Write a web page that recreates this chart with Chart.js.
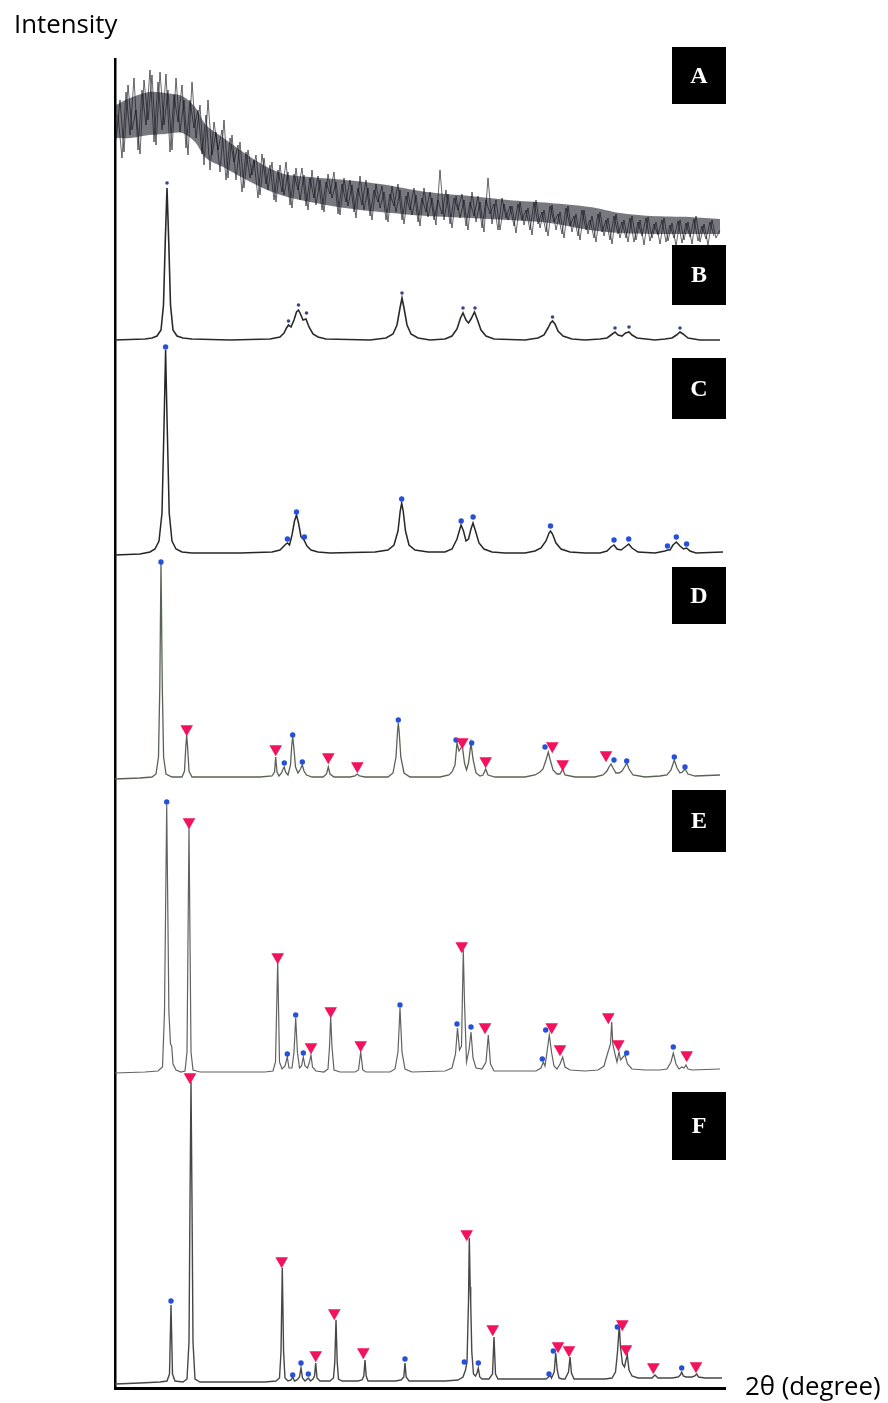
<!DOCTYPE html>
<html>
<head>
<meta charset="utf-8">
<script src="https://cdn.jsdelivr.net/npm/chart.js@4.4.1/dist/chart.umd.min.js"></script>
<style>
  html, body { margin: 0; padding: 0; background: #fff; }
  #wrap { position: relative; width: 888px; height: 1403px; }
</style>
</head>
<body>
<div id="wrap"><canvas id="xrd" width="888" height="1403"></canvas></div>
<script>
// ==================== DATA ====================
// x = 2θ position in picture units, y = intensity above each pattern's own baseline

const patternNames = ["A", "B", "C", "D", "E", "F"];

// stack offset of each pattern baseline (A .. F)
const baselineOffsets = [1138, 1048, 835, 611, 316, 6];

// A : amorphous hump, noisy trace, two interleaved readings (every 4 units from 116 and from 118)
const aStart = 116;
const aStart2 = 118;
const aStep = 4;
const traceA = [
  110, 150, 98, 165, 120, 140, 96, 170, 130, 175,
  105, 178, 125, 160, 100, 172, 118, 150, 95, 168,
  112, 145, 85, 150, 95, 118, 78, 130, 72, 115,
  70, 108, 62, 100, 75, 95, 55, 92, 60, 88,
  48, 85, 55, 78, 42, 82, 50, 75, 40, 80,
  45, 70, 38, 76, 52, 68, 35, 72, 44, 65,
  32, 74, 40, 62, 30, 66, 42, 58, 28, 64,
  38, 60, 26, 58, 35, 55, 24, 62, 33, 52,
  25, 80, 30, 56, 22, 54, 32, 50, 20, 58,
  28, 48, 18, 72, 26, 50, 20, 46, 30, 44,
  17, 48, 25, 42, 15, 50, 22, 40, 14, 45,
  20, 38, 12, 44, 18, 36, 10, 40, 16, 34,
  8, 38, 14, 32, 6, 36, 12, 30, 8, 34,
  10, 30, 5, 33, 12, 28, 6, 32, 9, 27,
  4, 30, 10, 28, 6, 34, 8, 26, 5, 30, 12, 20
];
const traceA2 = [
  135, 92, 158, 115, 172, 100, 160, 125, 180, 108,
  168, 120, 176, 98, 155, 128, 165, 102, 150, 122,
  140, 96, 135, 80, 128, 100, 120, 70, 112, 88,
  105, 58, 98, 72, 90, 52, 96, 66, 85, 50,
  80, 58, 88, 45, 76, 60, 82, 44, 72, 52,
  74, 40, 68, 56, 78, 36, 66, 48, 70, 38,
  62, 45, 70, 34, 60, 48, 64, 30, 56, 44,
  66, 30, 54, 40, 62, 28, 52, 38, 58, 30,
  50, 36, 60, 26, 52, 40, 56, 24, 48, 34,
  54, 22, 50, 36, 46, 20, 52, 32, 44, 24,
  46, 30, 40, 20, 48, 26, 38, 18, 44, 28,
  36, 16, 42, 24, 34, 14, 40, 20, 30, 12,
  36, 18, 30, 10, 34, 16, 28, 12, 32, 8,
  28, 14, 32, 9, 26, 15, 30, 8, 25, 12,
  29, 7, 27, 13, 31, 9, 24, 11, 28, 14
];
// dense core of the noise band of A (upper / lower edge)
const aCoreUpper = [[116,145],[130,152],[149,158],[165,157],[182,154],[195,143],[206,125],[225,111],[243,98],[265,84],[284,76],[310,73],[345,70],[380,66],[427,58],[470,54],[508,50],[550,47],[590,43],[620,37],[651,34],[690,33],[720,31]];
const aCoreLower = [[116,112],[130,112],[149,115],[165,116],[182,117],[195,108],[206,92],[225,82],[243,72],[265,61],[284,54],[310,48],[345,42],[380,38],[427,34],[470,32],[508,30],[550,27],[590,20],[620,17],[651,16],[690,16],[720,16]];

const traceB = [
  [115,0],[145,1],[152,2],[157,4],[161,10],[163.5,35],[165.3,100],[167,152],[168.7,100],[170.5,35],[173,10],[177,4],[183,2],[192,1],
  [230,0],[270,1],[280,3],[284,7],[286.5,12],[288.5,15],[291,13],[294,20],[296.5,28],[298.5,30],[300.5,26],[303,20],[306,21],[309,13],[313,6],[318,3],[326,1],
  [370,0],[386,2],[393,6],[397,15],[400,32],[402,42],[404,32],[407,15],[411,6],[418,2],[430,0],
  [445,1],[452,4],[457,11],[460.5,22],[463,27],[466,20],[468.5,17],[471,21],[474.5,28],[477.5,20],[481,10],[486,4],[494,1],
  [525,0],[538,2],[544,5],[548,12],[550.5,17],[552.5,19],[555,16],[558,9],[563,4],[572,1],[585,0],
  [600,1],[607,2],[611,5],[615,8],[618,5],[622,4],[625.5,7],[629,8],[632,5],[637,2],[655,0],
  [665,1],[672,2],[676.5,5],[680,8],[683,6],[688,2],[700,0],[720,0]
];

const traceC = [
  [115,-2],[140,-1],[150,1],[155,4],[159,12],[162,40],[164.3,140],[165.6,203],[166.9,140],[169.2,40],[172,12],[176,4],[182,1],[192,0],
  [240,0],[272,1],[280,3],[284,7],[286,9],[287.5,10],[289.5,8],[292,18],[294.5,32],[296.5,38],[298.5,30],[301,16],[304,13],[307,7],[311,3],[318,1],[330,0],
  [375,1],[388,3],[394,8],[398,22],[400.2,42],[401.7,50],[403.2,42],[405.5,22],[409,8],[415,3],[428,1],
  [445,1],[452,4],[457,14],[461,28],[463.5,22],[466,12],[468.5,14],[471,24],[473,30],[475.5,22],[479,10],[484,4],[492,1],[505,0],
  [525,0],[535,2],[541,5],[546,12],[549,20],[550.5,22],[552.5,19],[556,10],[561,4],[570,1],[585,0],
  [600,0],[607,2],[611,6],[614,8],[617,4],[621,3],[625,6],[628.7,9],[632,5],[638,1],[655,0],
  [660,1],[665,2],[667.5,3],[670,3],[673,8],[676.3,11],[680,7],[683.5,4],[686.6,5],[690,2],[696,0],[723,1]
];

const traceD = [
  [115,-2],[140,-1],[152,0],[156,3],[158.5,20],[159.8,90],[161,214],[162.3,90],[163.6,20],[166,3],[172,0],
  [182,0],[184.5,6],[185.8,30],[186.7,42],[187.6,30],[189,6],[192,0],
  [260,0],[272,1],[274.5,5],[275.7,20],[277,5],[279,1],[281.5,4],[283.5,9],[284.3,10],[285.5,5],[288,2],[290.5,12],[291.8,32],[292.7,40],[293.8,30],[295.5,10],[298,4],[300.5,8],[302.3,12],[304,6],[306.5,2],[312,0],
  [323,0],[326.5,3],[328.3,10],[330,3],[334,0],
  [350,0],[355,1],[357.3,3],[359.5,1],[365,0],
  [388,0],[393,4],[396,20],[397.5,45],[398.3,54],[399.2,45],[400.8,20],[404,4],[410,0],
  [440,0],[449,2],[452,5],[455,12],[457,34],[459,26],[462.3,31],[464.5,14],[466.5,7],[468.5,14],[471,34],[473,18],[476,4],[480,1],[483,2],[485.7,8],[488,2],[495,0],
  [525,0],[535,2],[540,5],[543,8],[546,17],[548.3,25],[550,18],[553,7],[557,3],[560,3],[562.7,8],[565,2],[575,0],
  [595,0],[603,2],[607,6],[609,10],[611,13],[613,9],[616,4],[619,4],[622,6],[624.5,10],[626.7,14],[629,8],[633,2],[645,0],
  [660,1],[667,2],[671,7],[674.3,17],[677,9],[680,4],[682.5,5],[685,8],[688,3],[695,1],[720,2]
];

const traceE = [
  [115,-1],[145,0],[158,1],[162.5,5],[164.5,60],[166.7,267],[168.9,60],[170.5,28],[171.7,26],[173,8],[176,2],[181,0],
  [185,1],[187,20],[189,245],[191,20],[193,2],[200,0],
  [265,0],[273,1],[275.5,10],[277.7,112],[279.5,10],[282,3],[285,6],[287.3,15],[289,4],[292,4],[294,20],[295.7,54],[297.4,20],[299.5,4],[301.5,6],[303.3,15],[305,6],[307.5,4],[309.5,10],[311,17],[312.5,5],[316,1],
  [324,0],[328,3],[329.5,25],[330.7,55],[332,25],[334,2],[340,0],
  [355,0],[358.5,2],[360.7,20],[362.8,2],[366,0],
  [390,0],[395,3],[398,20],[400,64],[402,20],[405,3],[412,0],
  [445,1],[452,4],[455.5,18],[457.5,44],[459.5,22],[461.5,26],[463.3,122],[464.5,70],[466.5,10],[469,22],[471,40],[473,14],[476,4],[482,3],[486,10],[488.3,37],[490.5,8],[494,1],
  [525,1],[536,1],[541,4],[543.3,10],[545,6],[547,20],[549.3,37],[551.5,20],[554,6],[557,3],[560,8],[562.7,15],[565,5],[570,2],
  [585,1],[598,2],[604,6],[608,20],[610.5,28],[611.7,50],[612.8,28],[615,18],[617,10],[619,20],[620.5,12],[623,15],[625,17],[627.5,8],[632,3],[645,2],
  [660,2],[667,3],[671,10],[673.3,19],[676,8],[679,3],[682,5],[684,4],[686,7],[688,3],[692,2],[720,3]
];

const traceF = [
  [115,-2],[140,-1],[160,0],[167,1],[169.5,8],[171,77],[172.5,8],[175,1],
  [183,0],[187,3],[189,40],[190,180],[191,300],[192,180],[193,40],[195,3],[200,0],
  [265,0],[276,1],[279.5,4],[281,30],[282.3,114],[283.6,30],[285,4],[288,1],[291,2],[292.7,5],[294.5,1],[297,2],[299.5,5],[301,14],[302.5,4],[305,1],[308.3,4],[310.5,1],[313,3],[314.5,6],[315.7,19],[317,4],[320,1],
  [330,1],[333.5,4],[334.8,20],[336,62],[337.2,20],[338.5,3],[342,1],
  [358,1],[362,2],[363.8,6],[365,22],[366.2,6],[368,1],[375,1],
  [395,1],[401,2],[403.8,5],[405,19],[406.2,5],[409,1],[420,1],
  [445,1],[458,2],[463,5],[465.5,12],[467,20],[468.5,80],[469.3,144],[470.2,95],[470.7,79],[471.8,30],[473.5,8],[475.5,6],[477,9],[478.3,14],[479.8,5],[482,3],[489,3],[492.5,8],[494,45],[495.5,8],[498,3],[510,3],
  [535,3],[546,3],[548.5,5],[550,7],[551.5,4],[554.2,10],[555.7,29],[557.2,12],[559,4],[562,3],[565,3],[568.5,10],[570,25],[571.5,9],[574,3],[590,3],
  [605,3],[612,4],[615.5,10],[617.5,30],[619.3,57],[620.5,35],[622.5,18],[624.5,15],[626,22],[627.3,27],[629,12],[632,6],[638,4],[648,4],
  [652,4],[655,7],[658,4],[672,4],[678,5],[680.3,7],[681.7,10],[683.3,6],[686,5],[692,5],[694.8,6],[696.7,8],[698.5,5],[705,4],[722,4]
];

// peak markers: small dots (phase 1) and triangles (phase 2), per pattern
const dotsB = [[167,157],[288.5,19],[298.5,35],[306.5,27],[402,47],[463,32],[475,32],[552.5,23],[615,12],[629,13],[680,12]];
const dotsC = [[165.6,206],[287.4,14],[296.5,41],[304.4,16],[401.7,54],[461.2,32],[473.1,36],[550.5,27],[614,13],[628.7,14],[667.5,7],[676.3,16],[686.6,9]];
const dotsD = [[161,215],[284.3,14],[292.7,42],[302.3,15],[398.3,57],[456,37],[471.7,34],[545,30],[614,17],[626.7,16],[674.3,20],[685,10]];
const dotsE = [[166.7,270],[287.3,18],[295.7,57],[303.3,19],[400,67],[457,48],[471,45],[542.3,13],[545.7,42],[626.7,19],[673.3,25]];
const dotsF = [[171,81],[292.7,7],[301,19],[308.3,8],[405,23],[464.3,20],[478.3,19],[549,8],[553.3,31],[617.3,55],[681.7,14]];
const trianglesD = [[186.7,48],[275.7,28],[328.3,20],[357.3,11],[462.3,35],[485.7,16],[552.3,31],[562.7,13],[606,22]];
const trianglesE = [[189,250],[277.7,115],[311,25],[330.7,61],[360.7,27],[461.7,126],[485,45],[551.7,45],[560,23],[608.3,55],[618.3,28],[686.7,17]];
const trianglesF = [[190,305],[281.7,121],[315.7,27],[334.3,69],[363.3,30],[466.7,148],[492.7,53],[558,36],[569,32],[622.3,58],[626,33],[653.3,15],[696,16]];

// ==================== BUILD DATASETS ====================
function shifted(points, offset) {
  return points.map(p => ({ x: p[0], y: p[1] + offset }));
}

const [offA, offB, offC, offD, offE, offF] = baselineOffsets;

const noisyA = traceA.map((v, i) => ({ x: aStart + i * aStep, y: v + offA }));
const noisyA2 = traceA2.map((v, i) => ({ x: aStart2 + i * aStep, y: v + offA }));

const lineStyle = (color, width) => ({
  borderColor: color,
  borderWidth: width,
  pointRadius: 0,
  tension: 0,
  fill: false
});

const datasets = [
  {
    label: "phase 2",
    data: [...shifted(trianglesD, offD), ...shifted(trianglesE, offE), ...shifted(trianglesF, offF)],
    showLine: false,
    pointStyle: "triangle",
    rotation: 180,
    pointRadius: 7.3,
    pointBackgroundColor: "#f3125c",
    pointBorderWidth: 0
  },
  {
    label: "phase 1",
    data: [...shifted(dotsC, offC), ...shifted(dotsD, offD), ...shifted(dotsE, offE), ...shifted(dotsF, offF)],
    showLine: false,
    pointStyle: "circle",
    pointRadius: 2.7,
    pointBackgroundColor: "#2650d8",
    pointBorderWidth: 0
  },
  {
    label: "phase 1 (B)",
    data: shifted(dotsB, offB),
    showLine: false,
    pointStyle: "circle",
    pointRadius: 1.8,
    pointBackgroundColor: "#3b4688",
    pointBorderWidth: 0
  },
  { label: "B", data: shifted(traceB, offB), ...lineStyle("#2a2a2a", 1.6) },
  { label: "C", data: shifted(traceC, offC), ...lineStyle("#262626", 1.5) },
  { label: "D", data: shifted(traceD, offD), ...lineStyle("#5a6256", 1.3) },
  { label: "E", data: shifted(traceE, offE), ...lineStyle("#616161", 1.2) },
  { label: "F", data: shifted(traceF, offF), ...lineStyle("#474747", 1.4) },
  { label: "A", data: noisyA, ...lineStyle("rgba(15,15,25,0.8)", 0.8) },
  { label: "A'", data: noisyA2, ...lineStyle("rgba(15,15,25,0.8)", 0.8) },
  {
    label: "A core top",
    data: shifted(aCoreUpper, offA),
    borderWidth: 0,
    pointRadius: 0,
    tension: 0.3,
    fill: { target: "+1" },
    backgroundColor: "rgba(30,30,42,0.6)"
  },
  {
    label: "A core bottom",
    data: shifted(aCoreLower, offA),
    borderWidth: 0,
    pointRadius: 0,
    tension: 0.3,
    fill: false
  }
];

// ==================== LABELS (boxes A-F + axis titles) ====================
const labelPlugin = {
  id: "labelPlugin",
  afterDraw(chart) {
    const ctx = chart.ctx;
    const boxTops = [47, 245, 358, 567, 790, 1092];
    const boxHeights = [57, 60, 61, 57, 62, 68];
    ctx.save();
    for (let i = 0; i < patternNames.length; i++) {
      ctx.fillStyle = "#000";
      ctx.fillRect(672, boxTops[i], 54, boxHeights[i]);
      ctx.fillStyle = "#fff";
      ctx.font = "bold 24px 'Liberation Serif', 'Times New Roman', serif";
      ctx.textAlign = "center";
      ctx.textBaseline = "middle";
      ctx.fillText(patternNames[i], 699, boxTops[i] + boxHeights[i] / 2 + 1);
    }
    ctx.fillStyle = "#000";
    ctx.font = "25.8px 'Open Sans', sans-serif";
    ctx.textAlign = "left";
    ctx.textBaseline = "alphabetic";
    ctx.fillText("Intensity", 14, 33);
    ctx.fillText("2θ (degree)", 745, 1395);
    ctx.restore();
  }
};

// ==================== CHART ====================
new Chart(document.getElementById("xrd"), {
  type: "line",
  data: { datasets },
  options: {
    responsive: false,
    animation: false,
    events: [],
    layout: {
      autoPadding: false,
      padding: { left: 115, right: 163, top: 59, bottom: 15 }
    },
    plugins: {
      legend: { display: false },
      tooltip: { enabled: false },
      title: { display: false }
    },
    scales: {
      x: {
        type: "linear",
        min: 115,
        max: 725,
        ticks: { display: false },
        grid: { display: false, drawTicks: false, tickLength: 0 },
        border: { display: true, color: "#000", width: 3 }
      },
      y: {
        type: "linear",
        min: 0,
        max: 1329,
        ticks: { display: false },
        grid: { display: false, drawTicks: false, tickLength: 0 },
        border: { display: true, color: "#000", width: 2.5 }
      }
    }
  },
  plugins: [labelPlugin]
});
</script>
</body>
</html>
